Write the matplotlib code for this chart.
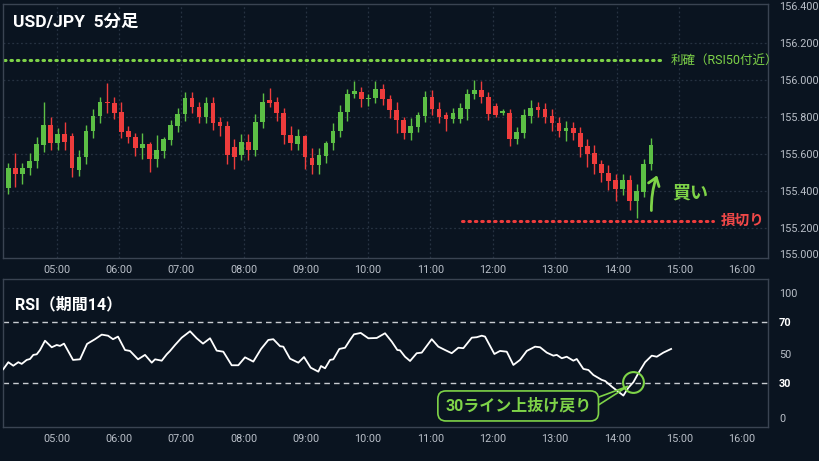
import numpy as np
import matplotlib
matplotlib.use("Agg")
import matplotlib.pyplot as plt

plt.rcParams['font.family'] = ['Roboto', 'Noto Sans CJK JP', 'DejaVu Sans']

# ---- data ----
# 5-minute candles, first one at about 04:13, spaced ~6.8 min in the drawing
candle_start = 4.223      # hours
candle_step = 0.11338     # hours
opens = [155.418, 155.527, 155.495, 155.525, 155.564, 155.649, 155.758, 155.662, 155.707, 155.698,
         155.513, 155.585, 155.725, 155.809, 155.880, 155.876, 155.831, 155.725, 155.695, 155.636,
         155.655, 155.573, 155.618, 155.676, 155.755, 155.818, 155.904, 155.858, 155.804, 155.876,
         155.773, 155.753, 155.640, 155.598, 155.667, 155.622, 155.776, 155.895, 155.880, 155.825,
         155.704, 155.655, 155.698, 155.582, 155.540, 155.589, 155.662, 155.727, 155.827, 155.925,
         155.936, 155.898, 155.904, 155.955, 155.898, 155.840, 155.785, 155.713, 155.749, 155.809,
         155.909, 155.844, 155.813, 155.789, 155.789, 155.845, 155.927, 155.949, 155.909, 155.860,
         155.825, 155.822, 155.680, 155.716, 155.809, 155.853, 155.844, 155.809, 155.767, 155.725,
         155.740, 155.716, 155.644, 155.604, 155.545, 155.500, 155.458, 155.413, 155.458, 155.344,
         155.395, 155.545]
highs = [155.553, 155.604, 155.553, 155.604, 155.695, 155.882, 155.800, 155.740, 155.773, 155.713,
         155.622, 155.758, 155.845, 155.909, 155.985, 155.909, 155.880, 155.753, 155.716, 155.716,
         155.667, 155.704, 155.695, 155.785, 155.849, 155.935, 155.935, 155.880, 155.909, 155.909,
         155.804, 155.782, 155.680, 155.707, 155.707, 155.818, 155.931, 155.958, 155.909, 155.849,
         155.753, 155.735, 155.704, 155.631, 155.631, 155.673, 155.767, 155.867, 155.953, 155.998,
         155.964, 155.927, 155.998, 155.982, 155.922, 155.880, 155.804, 155.795, 155.831, 155.940,
         155.945, 155.882, 155.831, 155.849, 155.876, 155.953, 156.000, 155.995, 155.935, 155.876,
         155.844, 155.844, 155.745, 155.844, 155.891, 155.885, 155.876, 155.844, 155.804, 155.782,
         155.776, 155.745, 155.680, 155.649, 155.571, 155.540, 155.491, 155.491, 155.485, 155.440,
         155.576, 155.685]
lows = [155.382, 155.422, 155.440, 155.485, 155.527, 155.613, 155.622, 155.622, 155.622, 155.476,
        155.480, 155.549, 155.685, 155.771, 155.825, 155.789, 155.685, 155.662, 155.589, 155.576,
        155.504, 155.531, 155.582, 155.649, 155.718, 155.782, 155.822, 155.767, 155.771, 155.731,
        155.698, 155.545, 155.522, 155.571, 155.571, 155.589, 155.740, 155.858, 155.780, 155.655,
        155.625, 155.622, 155.522, 155.491, 155.491, 155.553, 155.625, 155.691, 155.782, 155.904,
        155.853, 155.862, 155.876, 155.867, 155.795, 155.713, 155.680, 155.676, 155.722, 155.776,
        155.813, 155.771, 155.725, 155.767, 155.771, 155.785, 155.898, 155.876, 155.785, 155.804,
        155.813, 155.644, 155.655, 155.685, 155.767, 155.804, 155.767, 155.727, 155.695, 155.673,
        155.676, 155.585, 155.531, 155.495, 155.449, 155.407, 155.349, 155.380, 155.298, 155.255,
        155.371, 155.516]
closes = [155.525, 155.495, 155.527, 155.564, 155.655, 155.758, 155.662, 155.707, 155.667, 155.525,
          155.585, 155.725, 155.809, 155.880, 155.876, 155.825, 155.722, 155.695, 155.636, 155.655,
          155.573, 155.622, 155.680, 155.758, 155.818, 155.904, 155.858, 155.804, 155.876, 155.771,
          155.755, 155.595, 155.585, 155.667, 155.622, 155.776, 155.885, 155.876, 155.825, 155.704,
          155.658, 155.698, 155.585, 155.540, 155.595, 155.662, 155.727, 155.827, 155.927, 155.940,
          155.898, 155.904, 155.955, 155.898, 155.840, 155.785, 155.713, 155.753, 155.813, 155.909,
          155.844, 155.804, 155.789, 155.822, 155.849, 155.927, 155.949, 155.909, 155.818, 155.813,
          155.833, 155.680, 155.718, 155.813, 155.849, 155.840, 155.804, 155.767, 155.725, 155.740,
          155.713, 155.640, 155.600, 155.545, 155.498, 155.455, 155.413, 155.458, 155.345, 155.400,
          155.545, 155.649]

# RSI(14) line: time (hours) and value
rsi_time = [4.142, 4.223, 4.303, 4.383, 4.438, 4.518, 4.571, 4.624, 4.679, 4.732, 4.812, 4.920,
            5.000, 5.053, 5.117, 5.262, 5.374, 5.487, 5.615, 5.723, 5.824, 5.904, 5.984, 6.097,
            6.177, 6.306, 6.418, 6.526, 6.579, 6.686, 6.767, 6.820, 6.900, 7.007, 7.141, 7.248,
            7.349, 7.462, 7.569, 7.675, 7.810, 7.916, 8.024, 8.157, 8.281, 8.398, 8.478, 8.586,
            8.639, 8.747, 8.880, 8.971, 9.079, 9.201, 9.244, 9.309, 9.389, 9.442, 9.538, 9.630,
            9.710, 9.774, 9.882, 10.004, 10.139, 10.272, 10.380, 10.470, 10.513, 10.593, 10.674,
            10.781, 10.862, 11.022, 11.128, 11.236, 11.343, 11.449, 11.530, 11.665, 11.745, 11.825,
            11.878, 12.028, 12.119, 12.227, 12.333, 12.440, 12.548, 12.681, 12.762, 12.869, 12.975,
            13.030, 13.110, 13.190, 13.296, 13.351, 13.457, 13.538, 13.618, 13.753, 13.806, 13.913,
            14.099, 14.180, 14.260, 14.340, 14.448, 14.555, 14.636, 14.742, 14.866]
rsi_vals = [39.2, 43.8, 41.5, 43.8, 42.7, 45.3, 45.9, 48.6, 49.0, 51.8, 57.9, 53.6,
            55.1, 54.5, 56.0, 45.3, 45.7, 55.8, 58.9, 61.9, 61.2, 58.9, 60.6, 51.8,
            51.2, 45.7, 48.6, 43.5, 45.7, 44.8, 49.0, 51.2, 55.1, 59.9, 64.1, 59.5,
            56.0, 59.5, 51.4, 50.7, 41.8, 41.8, 47.0, 44.2, 52.5, 58.4, 58.9, 54.3,
            54.0, 46.1, 43.5, 47.2, 40.2, 37.6, 41.3, 39.8, 45.3, 45.7, 52.5, 53.3,
            58.4, 62.1, 63.0, 59.5, 59.7, 62.8, 57.3, 51.8, 51.6, 47.4, 44.6,
            49.7, 50.1, 58.9, 54.0, 51.8, 49.7, 53.3, 53.0, 59.9, 60.2, 61.2,
            60.6, 49.2, 51.2, 50.7, 42.0, 45.3, 51.2, 54.0, 53.6, 50.1, 48.1,
            48.6, 46.4, 47.4, 44.8, 45.9, 39.4, 38.7, 35.4, 32.2, 31.5, 27.8,
            21.9, 27.1, 30.7, 36.6, 43.8, 48.1, 47.4, 50.1, 52.5]

hour_ticks = [5, 6, 7, 8, 9, 10, 11, 12, 13, 14, 15, 16]
price_ticks = [155.2, 155.4, 155.6, 155.8, 156.0, 156.2, 156.4]
take_profit = 156.109
stop_loss = 155.240
buy_time, buy_price = 14.55, 155.28
cross_time, cross_val = 14.26, 30.9

bg = '#0a1420'
green = '#7ed348'
up = '#5cbf45'
down = '#ee3c3c'
red_txt = '#f04848'
grid_c = '#263241'
spine_c = '#3a4452'
lab_c = '#b9bfc8'
tick_size = 7.8

fig = plt.figure(figsize=(8.2, 4.61), dpi=100, facecolor=bg)
ax = fig.add_axes([0.0037, 0.4403, 0.9326, 0.551], facecolor=bg)
ax2 = fig.add_axes([0.0037, 0.0738, 0.9326, 0.321], facecolor=bg)

for a in (ax, ax2):
    for s in a.spines.values():
        s.set_color(spine_c)
        s.set_linewidth(1)
    a.set_xlim(4.138, 16.418)
    a.yaxis.tick_right()
    a.set_xticks(hour_ticks)
    a.set_xticklabels([f"{h:02d}:00" for h in hour_ticks])
    a.tick_params(length=0, colors=lab_c, labelsize=tick_size)
    a.tick_params(axis='y', pad=8)
    a.tick_params(axis='x', pad=5)

# ---- price panel ----
ax.set_ylim(155.038, 156.413)
ax.set_yticks(price_ticks)
ax.set_yticklabels([f"{p:.3f}" for p in price_ticks])
ax.annotate('155.000', xy=(1, 0), xycoords='axes fraction', xytext=(8, 2),
            textcoords='offset points', va='center', ha='left', color=lab_c,
            fontsize=tick_size)
for h in hour_ticks[:-1]:
    ax.axvline(h, color=grid_c, lw=0.9, ls=(0, (1.5, 2)), zorder=0)
for p in price_ticks[:-1]:
    ax.axhline(p, color=grid_c, lw=0.9, ls=(0, (1.5, 2)), zorder=0)

t = candle_start + np.arange(len(opens)) * candle_step
o = np.array(opens)
c = np.array(closes)
cols = [up if cc >= oo else down for oo, cc in zip(o, c)]
ax.vlines(t, lows, highs, colors=cols, lw=1, zorder=2)
body = np.maximum(np.abs(c - o), 0.006)
ax.bar(t, body, bottom=np.minimum(o, c), width=0.075, color=cols, zorder=3)

ax.plot([4.154, 14.722], [take_profit, take_profit], color=green, lw=2.2,
        ls=(0, (0.5, 1.6)), dash_capstyle='round')
ax.text(14.86, take_profit, '利確（RSI50付近）', color=green, fontsize=9,
        va='center', ha='left')
ax.plot([11.508, 15.54], [stop_loss, stop_loss], color=down, lw=2.2,
        ls=(0, (0.5, 1.6)), dash_capstyle='round')
ax.text(15.66, stop_loss, '損切り', color=red_txt, fontsize=10.5, fontweight='bold',
        va='center', ha='left')
ax.annotate('', xy=(14.655, 155.50), xytext=(buy_time, buy_price),
            arrowprops=dict(arrowstyle='->,head_width=0.4,head_length=0.55', color=green,
                            lw=2, connectionstyle='arc3,rad=-0.1'))
ax.text(14.88, 155.388, '買い', color=green, fontsize=13, fontweight='bold',
        va='center', ha='left')
ax.text(0.013, 0.93, 'USD/JPY  5分足', transform=ax.transAxes, color='white',
        fontsize=12.5, fontweight='bold', va='center', ha='left')

# ---- RSI panel ----
ax2.set_ylim(1.3, 98.4)
ax2.set_yticks([89.2, 70, 49.2, 30, 7.2])
ax2.set_yticklabels(['100', '70', '50', '30', '0'])
for lbl, txt in zip(ax2.get_yticklabels(), ['100', '70', '50', '30', '0']):
    if txt in ('70', '30'):
        lbl.set_color('white')
        lbl.set_fontweight('bold')
ax2.axhline(70, color='#c8ccd2', lw=1, ls=(0, (4, 3)))
ax2.axhline(30, color='#c8ccd2', lw=1, ls=(0, (4, 3)))
ax2.plot(rsi_time, rsi_vals, color='white', lw=1.3, zorder=3)
ax2.plot([cross_time], [cross_val], 'o', mfc='none', mec=green, mew=1.5, ms=15, zorder=4)
ax2.plot([13.63, 14.17, 13.63], [19.8, 28.0, 13.9], color=green, lw=1.2, zorder=4)
ax2.text(12.41, 15.1, '30ライン上抜け戻り', color=green, fontsize=11.5, fontweight='bold',
         va='center', ha='center', zorder=5,
         bbox=dict(boxstyle='round,pad=0.45,rounding_size=0.5', fc=bg, ec=green, lw=1.2))
ax2.text(0.016, 0.83, 'RSI（期間14）', transform=ax2.transAxes, color='white',
         fontsize=11.5, fontweight='bold', va='center', ha='left')

fig.savefig('out.png', dpi=100, facecolor=bg)
